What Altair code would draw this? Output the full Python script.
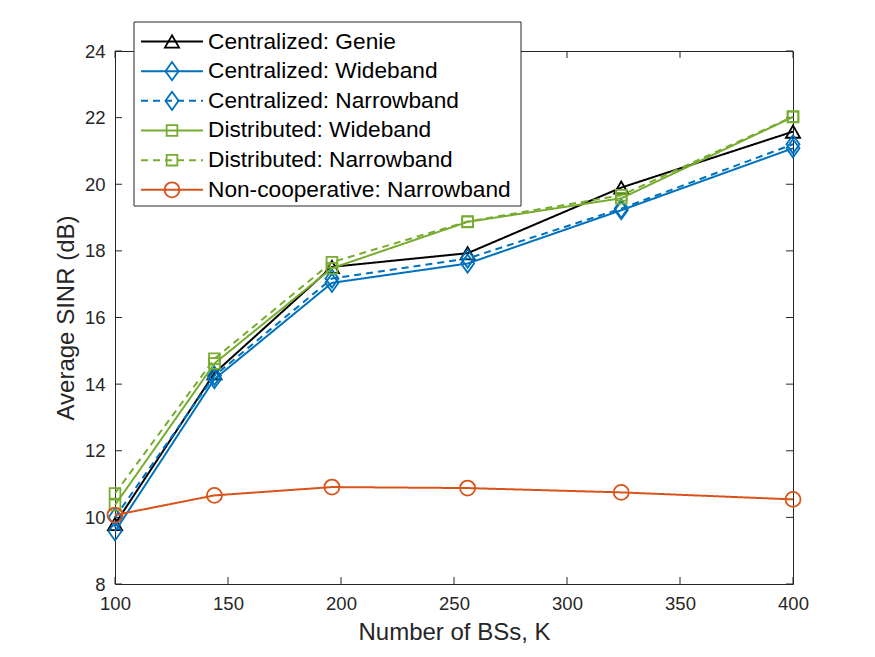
import altair as alt
import pandas as pd

# ---- data ----
num_bs = [100, 144, 196, 256, 324, 400]
series_names = [
    "Centralized: Genie",
    "Centralized: Wideband",
    "Centralized: Narrowband",
    "Distributed: Wideband",
    "Distributed: Narrowband",
    "Non-cooperative: Narrowband",
]
genie = [9.8, 14.33, 17.52, 17.93, 19.9, 21.58]
cent_wide = [9.58, 14.15, 17.04, 17.62, 19.22, 21.08]
cent_narrow = [10.0, 14.25, 17.17, 17.77, 19.27, 21.2]
dist_wide = [10.37, 14.62, 17.48, 18.87, 19.58, 22.02]
dist_narrow = [10.72, 14.76, 17.66, 18.88, 19.67, 22.03]
noncoop = [10.07, 10.66, 10.91, 10.88, 10.75, 10.54]
values = [genie, cent_wide, cent_narrow, dist_wide, dist_narrow, noncoop]

x_ticks = [100, 150, 200, 250, 300, 350, 400]
y_ticks = [8, 10, 12, 14, 16, 18, 20, 22, 24]

# ---- styles ----
W, H = 678, 533
FONT = "Liberation Sans"
AX = "#262626"
DIAMOND = "M0,-1L0.72,0L0,1L-0.72,0Z"
styles = [
    dict(color="#000000", dash=[1, 0], shape="triangle-up", size=200),
    dict(color="#0072BD", dash=[1, 0], shape=DIAMOND, size=330),
    dict(color="#0072BD", dash=[7, 5], shape=DIAMOND, size=330),
    dict(color="#77AC30", dash=[1, 0], shape="square", size=115),
    dict(color="#77AC30", dash=[7, 5], shape="square", size=115),
    dict(color="#D95319", dash=[1, 0], shape="circle", size=225),
]

xscale = alt.Scale(domain=[100, 400], nice=False, zero=False)
yscale = alt.Scale(domain=[8, 24], nice=False, zero=False)

layers = []

# inside ticks (all four sides)
xt = pd.DataFrame({"v": x_ticks})
yt = pd.DataFrame({"v": y_ticks})
tick_style = dict(color=AX, strokeWidth=1)
layers.append(alt.Chart(xt).mark_rule(**tick_style).encode(
    x=alt.X("v:Q", scale=xscale), y=alt.value(H), y2=alt.value(H - 7)))
layers.append(alt.Chart(xt).mark_rule(**tick_style).encode(
    x=alt.X("v:Q", scale=xscale), y=alt.value(0), y2=alt.value(7)))
layers.append(alt.Chart(yt).mark_rule(**tick_style).encode(
    y=alt.Y("v:Q", scale=yscale), x=alt.value(0), x2=alt.value(7)))
layers.append(alt.Chart(yt).mark_rule(**tick_style).encode(
    y=alt.Y("v:Q", scale=yscale), x=alt.value(W), x2=alt.value(W - 7)))

x_enc = alt.X(
    "k:Q", scale=xscale,
    axis=alt.Axis(values=x_ticks, title="Number of BSs, K", grid=False,
                  ticks=False, tickSize=0, domain=False, labelPadding=10,
                  labelFlush=False, titlePadding=8, format="d"),
)
y_enc = alt.Y(
    "v:Q", scale=yscale,
    axis=alt.Axis(values=y_ticks, title="Average SINR (dB)", grid=False,
                  ticks=False, tickSize=0, domain=False, labelPadding=10,
                  labelFlush=False, titlePadding=6, format="d"),
)

for i, (name, vals) in enumerate(zip(series_names, values)):
    st = styles[i]
    df = pd.DataFrame({"k": num_bs, "v": vals})
    base = alt.Chart(df)
    line = base.mark_line(color=st["color"], strokeWidth=2,
                          strokeDash=st["dash"]).encode(x=x_enc, y=y_enc)
    pts = base.mark_point(shape=st["shape"], size=st["size"], filled=False,
                          color=st["color"], strokeWidth=1.8, opacity=1
                          ).encode(x=x_enc, y=y_enc)
    layers += [line, pts]

# ---- legend ----
one = alt.Data(values=[{}])
layers.append(alt.Chart(one).mark_rect(fill="white", stroke=AX, strokeWidth=1).encode(
    x=alt.value(19), x2=alt.value(406), y=alt.value(-29), y2=alt.value(155)))
row0, step = -9.5, 29.66
for i, name in enumerate(series_names):
    st = styles[i]
    ly = row0 + i * step
    layers.append(alt.Chart(one).mark_rule(color=st["color"], strokeWidth=2,
                                           strokeDash=st["dash"]).encode(
        x=alt.value(26), x2=alt.value(88), y=alt.value(ly)))
    layers.append(alt.Chart(one).mark_point(shape=st["shape"], size=st["size"],
                                            filled=False, color=st["color"],
                                            strokeWidth=1.8, opacity=1).encode(
        x=alt.value(57), y=alt.value(ly)))
    layers.append(alt.Chart(one).mark_text(align="left", baseline="middle",
                                           fontSize=22.7, font=FONT,
                                           color="#000000").encode(
        x=alt.value(93), y=alt.value(ly), text=alt.value(name)))

chart = alt.layer(*layers).properties(
    width=W, height=H,
    autosize=alt.AutoSizeParams(type="none"),
    padding={"left": 115, "top": 51, "right": 82, "bottom": 73},
    background="white",
).configure_view(
    stroke=AX, strokeWidth=1
).configure_axis(
    labelFont=FONT, titleFont=FONT, labelColor=AX, titleColor=AX,
    labelFontSize=18.5, titleFontSize=24, titleFontWeight="normal",
)

chart.save("out.html", embed_options={"renderer": "svg", "actions": False})
